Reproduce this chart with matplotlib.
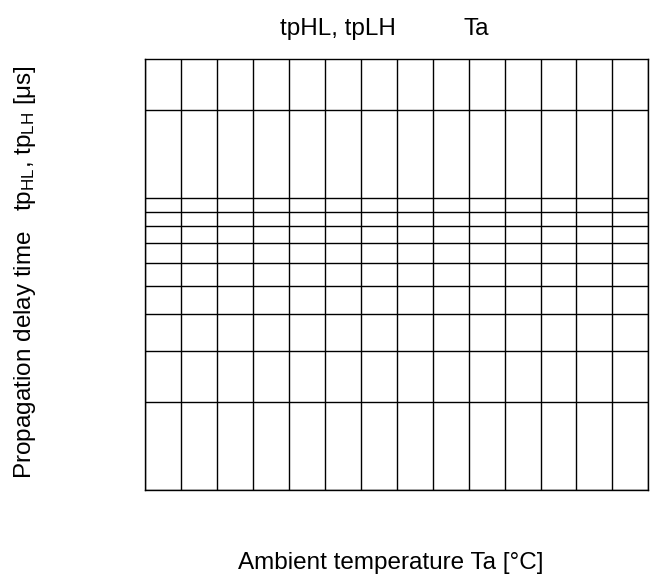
import matplotlib
matplotlib.use("Agg")
import matplotlib.pyplot as plt

plt.rcParams['font.family'] = ['Liberation Sans', 'DejaVu Sans']
plt.rcParams['mathtext.fontset'] = 'custom'
plt.rcParams['mathtext.rm'] = 'Liberation Sans'
plt.rcParams['mathtext.it'] = 'Liberation Sans'

# Axis grid values (blank characteristic chart)
temp_ticks = [-40, -30, -20, -10, 0, 10, 20, 30, 40, 50, 60, 70, 80, 90, 100]
delay_ticks = [1, 2, 3, 4, 5, 6, 7, 8, 9, 10, 20]
delay_range = [1, 30]

title_left = "tpHL, tpLH"
title_right = "Ta"
x_label = "Ambient temperature Ta [°C]"
y_label = r"Propagation delay time   tp$_{\mathrm{HL}}$, tp$_{\mathrm{LH}}$ [μs]"

fig = plt.figure(figsize=(6.53, 5.80), dpi=100)
ax = fig.add_axes([0.2225, 0.1552, 0.7703, 0.7431])

ax.set_yscale('log')
ax.set_xlim(temp_ticks[0], temp_ticks[-1])
ax.set_ylim(delay_range)

ax.set_xticks(temp_ticks)
ax.set_yticks(delay_ticks)
ax.set_yticks([], minor=True)
ax.tick_params(which='both', length=0, labelbottom=False, labelleft=False)
ax.grid(True, which='major', color='black', linewidth=1.0)

for s in ax.spines.values():
    s.set_color('black')
    s.set_linewidth(1.0)

fs = 17.5
fig.text(280 / 653, 1 - 35 / 580, title_left, fontsize=fs, ha='left', va='baseline')
fig.text(463 / 653, 1 - 35 / 580, title_right, fontsize=fs, ha='left', va='baseline')
fig.text(238 / 653, 1 - 569 / 580, x_label, fontsize=fs, ha='left', va='baseline')
fig.text(25 / 653, 1 - 272 / 580, y_label, fontsize=fs, rotation=90,
         ha='center', va='center')

fig.savefig('out.png', dpi=100)
